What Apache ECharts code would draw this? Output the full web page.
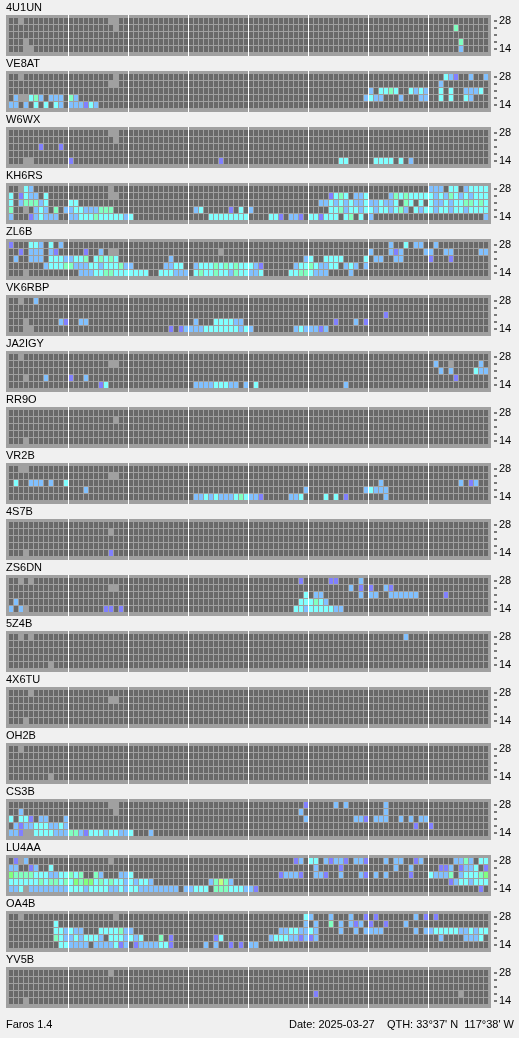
<!DOCTYPE html>
<html><head><meta charset="utf-8">
<script src="https://cdn.jsdelivr.net/npm/echarts@6/dist/echarts.min.js"></script>
<style>html,body{margin:0;padding:0;background:#f0f0f0}#c{width:519px;height:1038px}</style>
</head><body><div id="c"></div><script>
// ---- data ----
const STATIONS = ['4U1UN','VE8AT','W6WX','KH6RS','ZL6B','VK6RBP','JA2IGY','RR9O','VR2B','4S7B','ZS6DN','5Z4B','4X6TU','OH2B','CS3B','LU4AA','OA4B','YV5B'];
const BANDS = ['28','24','21','18','14'];          // rows, top to bottom (MHz)
const TICK_LABELS = ['28','','','','14'];
const NCOLS = 96;                                   // 15-minute slots over 24 h
const SECTION = 12;                                 // columns per 3-hour section
const FOOTER_LEFT = 'Faros 1.4';
const FOOTER_RIGHT = "Date: 2025-03-27    QTH: 33°37' N  117°38' W";
// cell codes: b light blue, c cyan, g mint, p violet, G green, y yellow-green, x not monitored
const D_4U1UN = ["2x 20-21x", "21x 89g", "", "3x 90g", "3-4x 90b"];
const D_VE8AT = ["2x 21x 87c 88b 89p 92b 95b", "20-21x 86b",
  "72b 74c 75c 76g 77c 80c 81b 82c 83b 86c 88c 91b 92b 93b 94c",
  "1b 2-3x 4c 5g 6b 8b 9b 10b 12g 13b 71b 72c 73b 74b 78b 82b 83b 86c 88c 91c 92b",
  "0b 1b 3b 5c 7c 9c 10b 12b 13b 14b 15p 16c 17b"];
const D_W6WX = ["20-21x", "21x", "6p 10p", "", "3-4x 12p 42p 66c 67c 73c 74c 75c 76c 78c 80b"];
const D_KH6RS = ["2x 3c 4b 20x 84b 85b 86b 88c 89c 91b 92c 93c 94c 95c",
  "0c 2p 3c 4b 5b 7c 20-21x 64p 65c 66g 67c 69b 70b 71c 76b 77g 78c 79g 80c 81c 82c 83c 84c 85b 86c 87b 88g 89c 90b 91c 92b 93c 94c 95c",
  "0c 2b 3g 4g 5g 6b 7c 12c 13c 62b 63b 64c 65b 66c 67b 68c 69b 70b 71c 72b 73b 74c 75b 76b 77c 79g 80c 82c 84c 85b 86b 87c 88b 89c 90c 91g 92g 93c 94g 95c",
  "0g 3x 5b 6c 7b 9g 11b 12b 13c 14c 15b 16b 17b 18g 19g 20g 37b 38c 44p 46c 48b 64c 65c 66g 67b 68c 69c 70b 71c 72c 73b 74c 75c 76b 77c 78g 79b 81c 82b 83c 84c 85b 86c 87c 88b 89c 90c 91b 92c 93c 94c 95c",
  "0b 4p 5b 6c 7b 8b 9b 12b 13b 14c 15c 16c 17g 18c 19c 20c 21c 22c 23b 24c 40-47c 52c 53c 54p 56b 57b 58p 60c 61c 62p 63c 64c 65c 67c 68g 70c 72b 95b"];
const D_ZL6B = ["0p 4c 5c 6b 8c 10b 76b 79c 81b 82b 85b",
  "2p 4b 5b 6b 8b 9p 15p 18b 20-21x 42x 72b 76b 77p 78b 83b 84b 87b 88b 94b 95b",
  "1b 4b 5b 6b 8c 9c 10c 11b 12b 13c 14c 15g 17c 18g 19c 20g 21c 32b 59b 60c 63c 64c 65c 66c 71c 73b 74b 77b 78b 84p 88p",
  "7b 8c 9c 10c 11g 12g 13b 14b 15b 16c 17c 18b 19c 20c 21c 22g 23b 24b 31b 32b 33c 34c 37b 38c 39c 40c 41g 42c 43g 44c 45g 46c 47c 48c 49b 50p 57b 58c 59c 60g 61c 62b 63b 64c 65c 67b 68c 69b 71b",
  "3x 14b 15b 16b 17c 18c 19g 20g 21c 22c 23c 24c 25c 26c 27c 30c 31c 32c 33b 34b 35b 37c 38g 39c 40c 41g 42c 43c 44b 45g 46c 47c 48b 49b 50c 56c 57c 58g 59g 60c 61b 62b 63b 68b"];
const D_VK6RBP = ["2x 5b", "", "75p", "3x 10b 11p 14b 15b 37b 41c 42c 43c 44c 45b 46b 65p 69b 71p",
  "3-4x 32p 34p 35b 36b 37b 38b 39c 40c 41c 42c 43c 44c 45c 46b 47c 48b 57b 58c 59b 60b 61b 62p 63b"];
const D_JA2IGY = ["2x", "20-21x 85b 88x 94b", "86b 88b 93c 94b 95b", "3x 7b 12p 15b 89p",
  "18p 19c 37b 38b 39b 40b 41c 42c 43c 44b 45b 47b 49c 67b"];
const D_RR9O = ["", "21x", "", "", "3x"];
const D_VR2B = ["2-3x", "20-21x", "1c 4b 5b 6b 8b 11c 74b 90b 92p 93b", "15b 59b 71b 72c 73b 74b 75b",
  "37b 38b 39c 40b 41c 42b 43b 44b 45c 46g 47c 48b 49b 50p 56b 57b 58c 63c 65c 67p 75b"];
const D_4S7B = ["", "20x", "", "", "3x 20p"];
const D_ZS6DN = ["2x 4x 58p 64p 65p 70b", "20-21x 68b 70p 72p 75b 76p",
  "59c 61b 62b 70b 72b 73b 76b 77b 78b 79b 80b 81b 87p", "1b 58c 59c 60c 61g 62c 63b",
  "0b 2b 3x 19p 20p 22p 57c 58c 59b 60c 61c 62c 63c 64c 65b 66b"];
const D_5Z4B = ["2x 4x 79b", "", "", "", "8x"];
const D_4X6TU = ["4x", "20-21x", "", "", "3x"];
const D_OH2B = ["2x", "", "", "", "8x"];
const D_CS3B = ["20-21x 59p 65b 67b 75b", "2b 21x 58b 75b",
  "0c 2c 3c 4p 6b 7b 11b 59b 69b 70b 71p 73b 74b 75b 78b 80b 82b 83b",
  "1b 2p 3b 4b 5c 6c 7c 8b 9b 10c 11b 81p 84p",
  "0b 1b 2p 3-4x 5c 6c 7c 8c 9b 10b 11b 12g 13g 14b 15p 16c 17c 18c 19b 20c 21c 22b 23b 24c 28b"];
const D_LU4AA = ["1p 2x 3b 20x 57p 58b 60c 61c 63b 64p 65b 66b 67p 69b 70b 71p 75b 77b 78b 81p 82b 89b 90b 91g 92b 94c 95c",
  "0b 1b 4p 5b 8c 61b 66p 77b 80b 86p 87p 88b 90p 91b 92b 93c 95p",
  "0G 1g 2g 3g 4g 5c 6c 7c 8b 9b 10c 11c 12g 13c 14g 17g 18b 22b 23b 24c 54p 55b 56b 57b 58p 61b 62b 63p 66b 70b 71p 73b 75b 80p 84c 85b 86b 87b 88g 90b 91c 92c 93c 94g 95G",
  "0c 1c 2c 3c 4c 5c 6g 7c 8g 9g 10c 11g 12c 13G 14g 15G 16G 17c 18g 19c 20g 21c 22c 23b 24c 25b 26c 27c 28b 40b 41g 42y 43g 44b 88p 89b 90c 91c 92b 93c 94c 95c",
  "0b 1b 2c 3x 4-11b 12c 13c 14c 15b 16c 17c 18c 19c 20b 21b 22c 23b 24c 25c 26b 27b 28b 29b 30b 31b 32b 33b 35b 36b 37c 38c 39c 41g 42g 43g 44c 45c 46c 47b 48b 49p 94p"];
const D_OA4B = ["2x 21x 59c 60b 64b 68b 71p 73p 81b 83p 85p",
  "9c 59b 61b 64g 66b 68b 69p 70b 72p 75p 79b",
  "9c 10c 11b 12c 13b 14b 18c 19c 20c 21c 22g 23b 24b 54b 55b 56c 57c 58b 59b 60c 61b 66b 69b 71b 72b 73b 74b 81b 83b 84b 85c 86c 87c 88c 89c 90b 91b 92c 93b 94c 95c",
  "9g 10c 11b 12b 13c 14b 15c 16c 17c 18b 20c 21c 22c 23b 24c 25b 26c 30g 32p 41p 42c 52b 53c 54c 55c 56b 57b 58p 59b 60p 61b 86b 91b 92b 93b 94c",
  "10c 11c 12b 13b 14b 15b 17b 18b 19b 20b 21c 22p 23b 25p 26b 27b 28b 29b 30c 31c 32p 39b 41b 44p 46p 48b 49b"];
const D_YV5B = ["20x", "", "", "61p 90x", "3x"];
const DATA = [D_4U1UN, D_VE8AT, D_W6WX, D_KH6RS, D_ZL6B, D_VK6RBP, D_JA2IGY, D_RR9O, D_VR2B, D_4S7B,
  D_ZS6DN, D_5Z4B, D_4X6TU, D_OH2B, D_CS3B, D_LU4AA, D_OA4B, D_YV5B];

// ---- styling ----
const PALETTE = {'.':'#696969', b:'#80c0ff', c:'#80ffff', g:'#80ffc0', p:'#8080ff', G:'#80ff80', y:'#c0ff80'};
const CODES = Object.keys(PALETTE);
const FONT = 'Liberation Sans';
const PITCH = 56, FRAME_TOP = 15, FRAME_H = 41, FRAME_LEFT = 6, FRAME_W = 485;

function parseRows(rows) {
  const out = [];
  rows.forEach((s, r) => {
    const row = new Array(NCOLS).fill('.');
    s.trim().split(/\s+/).filter(Boolean).forEach(t => {
      const m = t.match(/^(\d+)(?:-(\d+))?([a-zA-Z])$/);
      const a = +m[1], b = m[2] ? +m[2] : a;
      for (let c = a; c <= b; c++) row[c] = m[3];
    });
    row.forEach((code, c) => { if (code !== 'x') out.push([c, r, CODES.indexOf(code)]); });
  });
  return out;
}

function renderItem(params, api) {
  const p = api.coord([api.value(0), api.value(1)]);
  const s = api.size([1, 1]);
  return { type: 'rect',
    shape: { x: Math.round(p[0] + 0.01), y: Math.round(p[1] + 0.01), width: Math.round(s[0]) - 1, height: Math.round(s[1]) - 1 },
    style: { fill: PALETTE[CODES[api.value(2)]] } };
}

const grids = [], xAxes = [], yAxes = [], series = [], titles = [];
const seps = [];
for (let k = SECTION; k < NCOLS; k += SECTION) seps.push({ xAxis: k });
const yBase = { type: 'value', inverse: true, min: -2.5 / 7, max: BANDS.length + 0.5, position: 'right', offset: 3,
  axisLine: { show: false }, splitLine: { show: false }, axisTick: { show: false } };
const rowCenters = BANDS.map((b, r) => r + 0.5);
function tickAxis(i, values) {
  return Object.assign({}, yBase, { gridIndex: i,
    axisLabel: { show: true, customValues: values, margin: 0, align: 'left',
      showMinLabel: true, showMaxLabel: true, hideOverlap: false,
      formatter: () => '{t|}',
      rich: { t: { width: 3, height: 1, lineHeight: 1, backgroundColor: '#000000' } } } });
}
STATIONS.forEach((name, i) => {
  const top = FRAME_TOP + PITCH * i;
  grids.push({ left: FRAME_LEFT, top: top, width: FRAME_W, height: FRAME_H, show: true,
    backgroundColor: '#a0a0a0', borderWidth: 0 });
  xAxes.push({ type: 'value', gridIndex: i, min: -0.5, max: NCOLS + 0.5, show: false });
  const yIdx = yAxes.length;
  // band labels
  yAxes.push(Object.assign({}, yBase, { gridIndex: i,
    axisLabel: { show: true, customValues: [rowCenters[0], rowCenters[BANDS.length - 1]], margin: 5, align: 'left',
      showMinLabel: true, showMaxLabel: true, hideOverlap: false,
      formatter: v => TICK_LABELS[Math.floor(v)], color: '#000', fontSize: 11, fontFamily: FONT } }));
  // tick marks, one per band row (split over two axes so they are never thinned out)
  yAxes.push(tickAxis(i, rowCenters.filter((v, r) => r % 2 === 0)));
  yAxes.push(tickAxis(i, rowCenters.filter((v, r) => r % 2 === 1)));
  series.push({ type: 'custom', name: name, xAxisIndex: i, yAxisIndex: yIdx, data: parseRows(DATA[i]),
    renderItem: renderItem, animation: false, silent: true,
    markLine: { silent: true, symbol: ['none', 'none'], label: { show: false }, animation: false,
      lineStyle: { color: '#ffffff', width: 1, type: 'solid', opacity: 1 }, emphasis: { disabled: true },
      data: seps } });
  titles.push({ text: name, left: 6, top: top - 13, padding: 0,
    textStyle: { fontSize: 11, fontWeight: 'normal', color: '#000', fontFamily: FONT } });
});
titles.push({ text: FOOTER_LEFT, left: 6, top: 1019, padding: 0,
  textStyle: { fontSize: 11, fontWeight: 'normal', color: '#000', fontFamily: FONT } });
titles.push({ text: FOOTER_RIGHT, right: 5, top: 1019, padding: 0,
  textStyle: { fontSize: 11, fontWeight: 'normal', color: '#000', fontFamily: FONT } });

const chart = echarts.init(document.getElementById('c'), null, { renderer: 'canvas' });
chart.setOption({ backgroundColor: '#f0f0f0', animation: false, title: titles,
  grid: grids, xAxis: xAxes, yAxis: yAxes, series: series });
</script></body></html>
